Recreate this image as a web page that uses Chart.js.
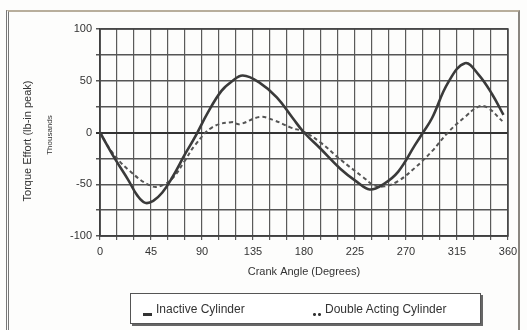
<!DOCTYPE html>
<html>
<head>
<meta charset="utf-8">
<script src="https://cdn.jsdelivr.net/npm/chart.js@4/dist/chart.umd.min.js"></script>
<style>
  html, body { margin: 0; padding: 0; background: #fff; }
  #wrap { position: relative; width: 527px; height: 330px; overflow: hidden; background: #fdfdfc; }
  #frame { position: absolute; left: 6px; top: 10px; width: 514px; height: 340px;
           border: 2px solid #8a8680; border-top-color: #b8ae9c; border-left: 3px double #777; box-sizing: border-box; }
  canvas { position: absolute; left: 0; top: 0; }
  #legend { position: absolute; left: 130px; top: 293px; width: 351px; height: 31px; box-sizing: border-box;
            border: 1px solid #555; box-shadow: 2px 2px 0 #666; background: #fff;
            font-family: "Liberation Sans", Arial, sans-serif; font-size: 12px; color: #333; }
  .item { position: absolute; top: 8px; white-space: nowrap; }
  .solid { display: inline-block; width: 9px; height: 3px; background: #333; vertical-align: -3px; margin-right: 4px; }
  .dots { display: inline-block; width: 10px; height: 3px; vertical-align: -3px; margin-right: 3px;
          background: radial-gradient(circle, #333 1.3px, transparent 1.6px) 0 0 / 5px 3px repeat-x; }
</style>
</head>
<body>
<div id="wrap">
  <div id="frame"></div>
  <canvas id="c" width="527" height="330"></canvas>
  <div id="legend">
    <span class="item" style="left:12px"><span class="solid"></span>Inactive Cylinder</span>
    <span class="item" style="left:181px"><span class="dots"></span>Double Acting Cylinder</span>
  </div>
</div>
<script>
// ---- data ----
const xTickLabels = [0, 45, 90, 135, 180, 225, 270, 315, 360];
const yTickLabels = [-100, -50, 0, 50, 100];
const seriesNames = ['Inactive Cylinder', 'Double Acting Cylinder'];

const inactiveAngles = [0, 13, 25, 33, 40, 47, 55, 64, 75, 84, 95, 107, 116, 126, 141, 156, 170, 180, 194, 212, 227, 238, 250, 263, 278, 285, 293, 307, 322, 334, 346, 356];
const inactiveValues = [0, -25, -46, -61, -68, -66, -58, -43, -21, -4, 19, 40, 49, 55, 48, 34, 14, 0, -15, -35, -48, -55, -50, -38, -12, 0, 14, 48, 67, 56, 37, 17];

const doubleAngles = [0, 10, 25, 46, 57, 65, 75, 84, 99, 116, 123, 141, 153, 168, 181, 195, 212, 232, 242, 251, 263, 278, 293, 307, 322, 334, 342, 355];
const doubleValues = [0, -18, -36, -52, -50, -43, -27, -12, 5, 10, 8, 15, 12, 5, 0, -10, -26, -43, -51, -52, -47, -34, -18, 0, 15, 25, 24, 11];

const toPoints = (xs, ys) => xs.map((x, i) => ({ x: x, y: ys[i] }));

const FONT = '"Liberation Sans", Arial, sans-serif';

const titlePlugin = {
  id: 'titles',
  afterDraw(chart) {
    const ctx = chart.ctx;
    const a = chart.chartArea;
    ctx.save();
    ctx.fillStyle = '#333';
    ctx.textAlign = 'center';
    ctx.textBaseline = 'middle';
    ctx.save();
    ctx.translate(28, 141);
    ctx.rotate(-Math.PI / 2);
    ctx.font = '11px ' + FONT;
    ctx.fillText('Torque Effort (lb-in peak)', 0, 0);
    ctx.restore();
    ctx.save();
    ctx.translate(50, 135);
    ctx.rotate(-Math.PI / 2);
    ctx.font = '8px ' + FONT;
    ctx.fillText('Thousands', 0, 0);
    ctx.restore();
    ctx.font = '11px ' + FONT;
    ctx.fillText('Crank Angle (Degrees)', (a.left + a.right) / 2, 272);
    ctx.restore();
  }
};

new Chart(document.getElementById('c'), {
  type: 'line',
  data: {
    datasets: [
      {
        label: seriesNames[0],
        data: toPoints(inactiveAngles, inactiveValues),
        borderColor: '#3a3a3a',
        borderWidth: 2.6,
        pointRadius: 0,
        tension: 0.4,
        fill: false
      },
      {
        label: seriesNames[1],
        data: toPoints(doubleAngles, doubleValues),
        borderColor: '#555',
        borderWidth: 2,
        borderDash: [4, 3],
        pointRadius: 0,
        tension: 0.4,
        fill: false
      }
    ]
  },
  options: {
    responsive: false,
    animation: false,
    layout: { padding: { left: 40, right: 19, top: 29, bottom: 0 } },
    plugins: { legend: { display: false }, tooltip: { enabled: false } },
    scales: {
      x: {
        type: 'linear',
        min: 0, max: 360,
        afterFit(s) { s.height = 94; },
        ticks: {
          stepSize: 15,
          autoSkip: false,
          maxRotation: 0,
          padding: 5,
          color: '#333',
          font: { family: FONT, size: 11 },
          callback: (v) => xTickLabels.includes(v) ? String(v) : ''
        },
        grid: { color: '#5a5a5a', lineWidth: 1.2, tickLength: 4, drawOnChartArea: true },
        border: { color: '#333', width: 1.5 }
      },
      y: {
        min: -100, max: 100,
        afterFit(s) { s.width = 60; },
        ticks: {
          stepSize: 25,
          padding: 4,
          color: '#333',
          font: { family: FONT, size: 11 },
          callback: (v) => yTickLabels.includes(v) ? String(v) : ''
        },
        grid: { color: (c) => c.tick && c.tick.value === 0 ? '#333' : '#555', lineWidth: (c) => c.tick && c.tick.value === 0 ? 2 : 1.5, tickLength: 4 },
        border: { color: '#333', width: 1.5 }
      }
    }
  },
  plugins: [titlePlugin, {
    id: 'frameBorder',
    afterDraw(chart) {
      const a = chart.chartArea, ctx = chart.ctx;
      ctx.save();
      ctx.strokeStyle = '#444';
      ctx.lineWidth = 1.5;
      ctx.strokeRect(a.left, a.top, a.right - a.left, a.bottom - a.top);
      ctx.restore();
    }
  }]
});
</script>
</body>
</html>
